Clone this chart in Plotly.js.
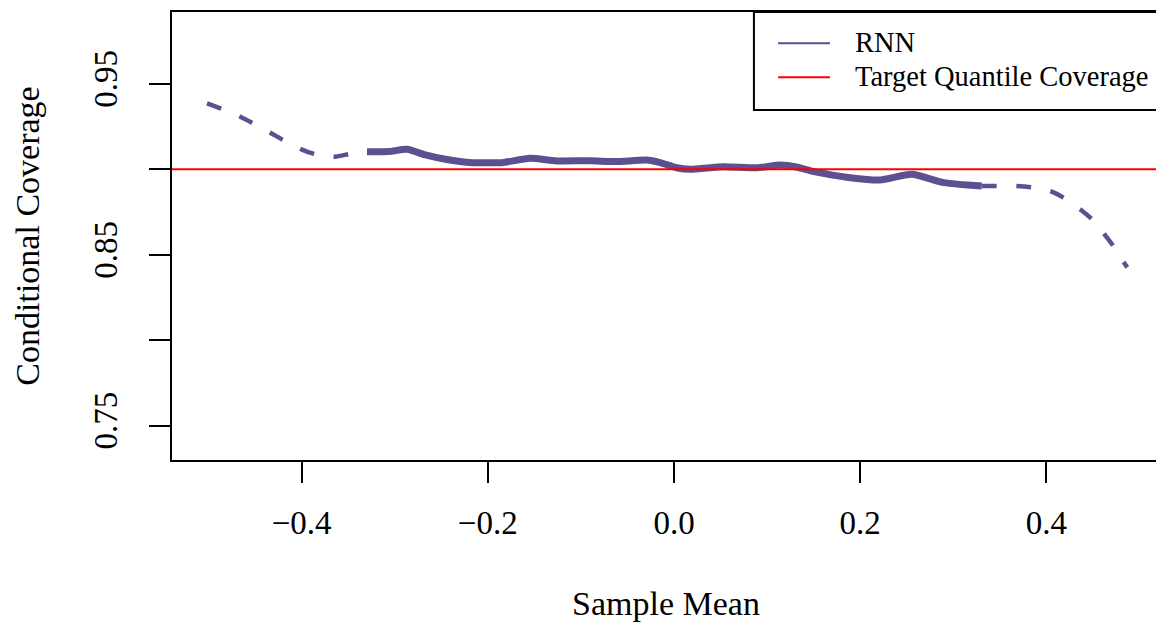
<!DOCTYPE html>
<html><head><meta charset="utf-8">
<script src="https://cdn.plot.ly/plotly-3.0.1.min.js"></script>
<style>html,body{margin:0;padding:0;overflow:hidden;background:#fff}#chart{width:1175px;height:630px}</style>
</head><body><div id="chart"></div><script>
// Data
const xDashLeft = [-0.5016, -0.4855, -0.4658, -0.4533, -0.4336, -0.4200, -0.4003, -0.3853, -0.3638, -0.3483, -0.3298];
const yDashLeft = [0.9386, 0.9353, 0.9308, 0.9273, 0.9214, 0.9172, 0.9117, 0.9088, 0.9074, 0.9090, 0.9103];
const xSolid = [-0.3298, -0.3064, -0.2868, -0.2671, -0.2456, -0.2170, -0.1976, -0.1847, -0.1547, -0.1260, -0.0902, -0.0616, -0.0294, -0.0150, 0.0029, 0.0172, 0.0530, 0.0888, 0.1146, 0.1325, 0.1504, 0.1890, 0.2213, 0.2553, 0.2899, 0.3305];
const ySolid = [0.9103, 0.9104, 0.9117, 0.9084, 0.9059, 0.9039, 0.9039, 0.9039, 0.9064, 0.9049, 0.9050, 0.9045, 0.9054, 0.9039, 0.9009, 0.9000, 0.9015, 0.9009, 0.9025, 0.9012, 0.8986, 0.8951, 0.8937, 0.8971, 0.8922, 0.8902];
const xDashRight = [0.3305, 0.3466, 0.3681, 0.3831, 0.4057, 0.4182, 0.4372, 0.4487, 0.4630, 0.4719, 0.4834, 0.4869];
const yDashRight = [0.8902, 0.8902, 0.8902, 0.8895, 0.8869, 0.8834, 0.8762, 0.8709, 0.8615, 0.8551, 0.8453, 0.8426];
const targetCoverage = 0.9;
const seriesNames = ['RNN', 'Target Quantile Coverage'];
const xTickVals = [-0.4, -0.2, 0, 0.2, 0.4];
const xTickText = ['\u22120.4', '\u22120.2', '0.0', '0.2', '0.4'];
const yTickVals = [0.75, 0.8, 0.85, 0.9, 0.95];
const yTickText = ['0.75', '', '0.85', '', '0.95'];

const rnnColor = 'rgb(92,81,144)';
const FONT = 'Liberation Serif, Times New Roman, serif';
const DASH = '15px,19.5px';

const traces = [
  {x: xDashLeft, y: yDashLeft, mode: 'lines', name: seriesNames[0], showlegend: false,
   line: {color: rnnColor, width: 4.5, dash: DASH, shape: 'spline', smoothing: 0.6}},
  {x: xSolid, y: ySolid, mode: 'lines', name: seriesNames[0], showlegend: false,
   line: {color: rnnColor, width: 7, shape: 'spline', smoothing: 0.6}},
  {x: xDashRight, y: yDashRight, mode: 'lines', name: seriesNames[0], showlegend: false,
   line: {color: rnnColor, width: 4.5, dash: DASH, shape: 'spline', smoothing: 0.6}}
];

const lx0 = 0.589, ly0 = 0.78125;
const layout = {
  width: 1175, height: 630,
  margin: {l: 172, r: 15, t: 12, b: 170},
  paper_bgcolor: '#fff', plot_bgcolor: '#fff',
  font: {family: FONT, color: '#000'},
  showlegend: false,
  xaxis: {
    range: [-0.5392, 0.5220], tickvals: xTickVals, ticktext: xTickText,
    showgrid: false, zeroline: false, showline: true, mirror: true,
    linecolor: '#000', linewidth: 2, ticks: 'outside', ticklen: 21, tickwidth: 2, tickcolor: '#000',
    tickfont: {size: 33, family: FONT}, ticklabelstandoff: 11,
    title: {text: 'Sample Mean', font: {size: 34, family: FONT}, standoff: 52}
  },
  yaxis: {
    range: [0.7298, 0.9921], tickvals: yTickVals, ticktext: yTickText, tickangle: -90,
    showgrid: false, zeroline: false, showline: true, mirror: true,
    linecolor: '#000', linewidth: 2, ticks: 'outside', ticklen: 21, tickwidth: 2, tickcolor: '#000',
    tickfont: {size: 33, family: FONT}, ticklabelstandoff: 19,
    title: {text: 'Conditional Coverage', font: {size: 34, family: FONT}, standoff: 38}
  },
  shapes: [
    {type: 'line', xref: 'paper', x0: 0, x1: 1, yref: 'y', y0: targetCoverage, y1: targetCoverage,
     line: {color: '#ff0000', width: 2}, layer: 'above'},
    {type: 'rect', xref: 'paper', yref: 'paper', x0: lx0, x1: 1.05, y0: ly0, y1: 1,
     line: {color: '#000', width: 2}, fillcolor: '#fff', layer: 'above'},
    {type: 'line', xref: 'paper', yref: 'paper', x0: 0.6134, x1: 0.6660, y0: 0.9301, y1: 0.9301,
     line: {color: rnnColor, width: 2}, layer: 'above'},
    {type: 'line', xref: 'paper', yref: 'paper', x0: 0.6134, x1: 0.6660, y0: 0.8542, y1: 0.8542,
     line: {color: '#ff0000', width: 2}, layer: 'above'}
  ],
  annotations: [
    {xref: 'paper', yref: 'paper', x: 0.6893, y: 0.9330, xanchor: 'left', yanchor: 'middle',
     text: seriesNames[0], showarrow: false, font: {size: 28.5, family: FONT, color: '#000'}},
    {xref: 'paper', yref: 'paper', x: 0.6893, y: 0.8571, xanchor: 'left', yanchor: 'middle',
     text: seriesNames[1], showarrow: false, font: {size: 28.5, family: FONT, color: '#000'}}
  ]
};

Plotly.newPlot('chart', traces, layout, {displayModeBar: false, staticPlot: true});
</script></body></html>
